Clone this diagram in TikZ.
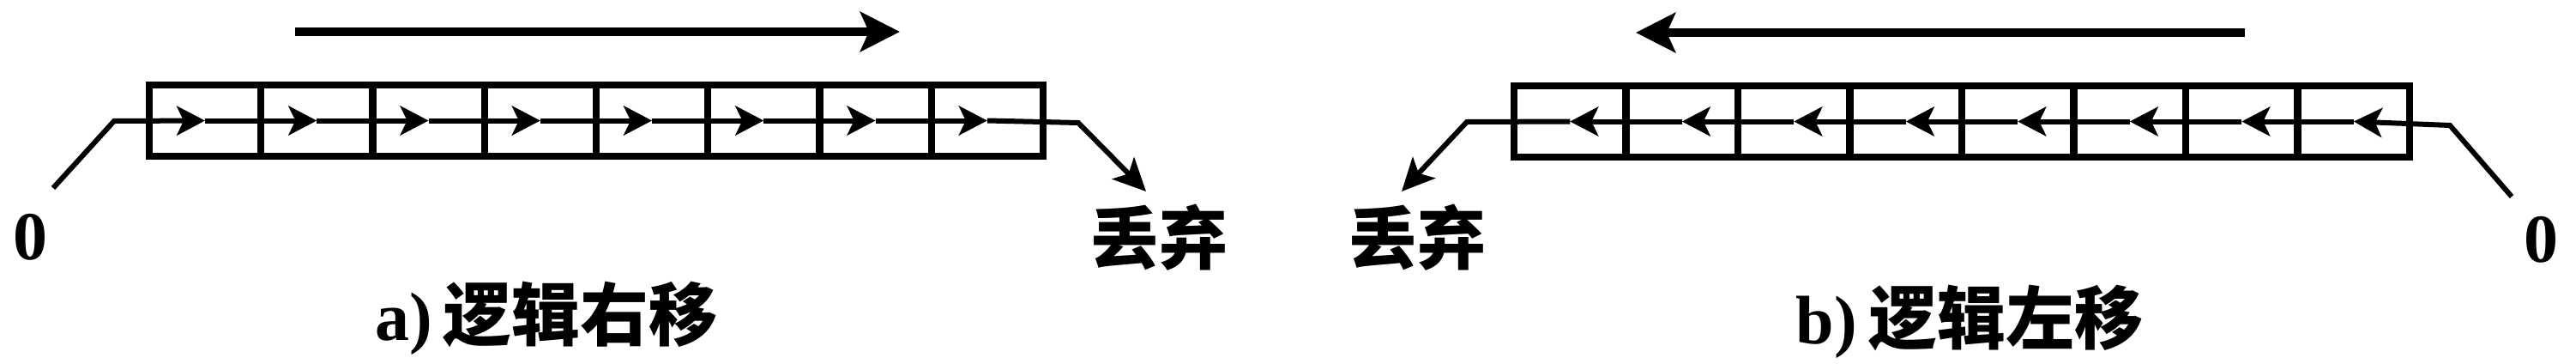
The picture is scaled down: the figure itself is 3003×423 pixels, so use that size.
\documentclass[tikz,border=0pt]{standalone}
\usepackage{fontspec}
\setmainfont{Liberation Serif}
\newfontfamily\cjk{Noto Sans CJK SC}
\usetikzlibrary{arrows.meta}
\begin{document}
\begin{tikzpicture}[x=1pt,y=-1pt,
  cell/.style={draw, line width=8pt, minimum width=130.3pt, minimum height=83pt, inner sep=0pt, outer sep=0pt},
  bigarrow/.style={line width=10pt, -{Stealth[length=46pt,width=46pt,inset=10pt]}},
  small/.style={line width=6pt, -{Stealth[length=33pt,width=34pt,inset=8pt]}},
  leadarrow/.style={line width=6pt, line join=miter, -{Stealth[length=38pt,width=36pt,inset=9pt]}},
  lbl/.style={font=\fontsize{80}{84}\selectfont\cjk\bfseries, inner sep=0pt},
  num/.style={font=\fontsize{80}{84}\selectfont\bfseries, inner sep=0pt},
  caption/.style={font=\fontsize{80}{84}\selectfont, inner sep=0pt}]
\useasboundingbox (0,0) rectangle (3003,423);
% ---------- a) logical right shift ----------
\coordinate (ta1) at (344,37);
\coordinate (tb1) at (1049,37);
\draw[bigarrow] (ta1) -- (tb1);
\foreach \k in {1,...,8}{
  \node[cell] (L\k) at ({174+130.25*(\k-0.5)},140.5) {};
}
\foreach \k [evaluate=\k as \p using int(\k-1)] in {2,...,8}{
  \draw[small] (L\p.center) -- (L\k.center);
}
\node[num] (zL) at (36,276) {0};
\coordinate (la) at (62,219);
\coordinate (lb) at (133,141);
\draw[small, line join=miter] (la) -- (lb) -- (L1.center);
\coordinate (lc) at (1257,143);
\coordinate (ld) at (1336,223);
\draw[leadarrow] (L8.center) -- (lc) -- (ld);
\node[lbl] (dL) at (1351,277) {丢弃};
\node[caption] (capA) at (637,371) {\textbf{a)}\,{\cjk\bfseries 逻辑右移}};
% ---------- b) logical left shift ----------
\coordinate (ta2) at (2617,38);
\coordinate (tb2) at (1907,38);
\draw[bigarrow] (ta2) -- (tb2);
\foreach \k in {1,...,8}{
  \node[cell] (R\k) at ({1765+130.5*(\k-0.5)},141.5) {};
}
\foreach \k [evaluate=\k as \p using int(\k-1)] in {2,...,8}{
  \draw[small] (R\k.center) -- (R\p.center);
}
\node[num] (zR) at (2962,279) {0};
\coordinate (ra) at (2928,229);
\coordinate (rb) at (2856,146);
\draw[small, line join=miter] (ra) -- (rb) -- (R8.center);
\coordinate (rc) at (1710,142);
\coordinate (rd) at (1634,223);
\draw[leadarrow] (R1.center) -- (rc) -- (rd);
\node[lbl] (dR) at (1652,277) {丢弃};
\node[caption] (capB) at (2296,375) {\textbf{b)}\,{\cjk\bfseries 逻辑左移}};
\end{tikzpicture}
\end{document}
